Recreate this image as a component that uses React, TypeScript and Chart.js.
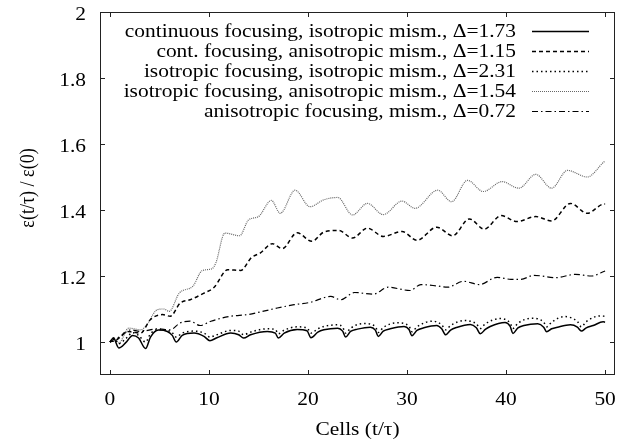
import React, { useEffect, useRef } from "react";
import { Chart, registerables } from "chart.js";

Chart.register(...registerables);

const FONT = "'Liberation Serif', 'Times New Roman', serif";
const FONT_PX = 18;
const STRETCH = 1.19;

const LABELS = [
  "continuous focusing, isotropic mism., \u0394=1.73",
  "cont. focusing, anisotropic mism., \u0394=1.15",
  "isotropic focusing, isotropic mism., \u0394=2.31",
  "isotropic focusing, anisotropic mism., \u0394=1.54",
  "anisotropic focusing, mism., \u0394=0.72",
];

const X_TITLE = "Cells (t/\u03c4)";
const Y_TITLE = "\u03b5(t/\u03c4) / \u03b5(0)";

const X_TICKS = [0, 10, 20, 30, 40, 50];
const Y_TICKS = [1, 1.2, 1.4, 1.6, 1.8, 2];

// Series 1: continuous focusing, isotropic mismatch (solid)
const T1 = [0, 0.35, 0.9, 1.6, 2.3, 2.9, 3.6, 4.1, 4.9, 5.8, 6.3, 6.7, 7.3, 8.5, 9.5, 10.1, 10.8, 12.2, 13.0, 13.5, 14.2, 15.9, 16.7, 17.0, 17.6, 18.9, 19.9, 20.3, 21.0, 21.6, 23.0, 23.5, 23.8, 24.3, 25.0, 26.3, 26.8, 27.1, 27.6, 28.3, 29.7, 30.2, 30.5, 31.0, 31.7, 33.0, 33.5, 33.9, 34.4, 35.0, 36.4, 37.0, 37.4, 37.9, 38.4, 39.9, 40.4, 40.7, 41.2, 41.8, 43.2, 43.8, 44.1, 44.6, 45.2, 46.5, 47.2, 47.6, 48.1, 48.8, 49.8, 50];
const V1 = [1.0, 1.012, 0.982, 0.998, 1.02, 1.012, 0.98, 1.015, 1.036, 1.032, 1.02, 1.0, 1.02, 1.027, 1.017, 1.004, 1.013, 1.027, 1.022, 1.012, 1.022, 1.032, 1.027, 1.012, 1.027, 1.038, 1.034, 1.013, 1.03, 1.037, 1.042, 1.033, 1.015, 1.032, 1.039, 1.045, 1.036, 1.017, 1.033, 1.04, 1.047, 1.038, 1.019, 1.035, 1.043, 1.05, 1.04, 1.022, 1.036, 1.044, 1.053, 1.043, 1.025, 1.038, 1.047, 1.059, 1.048, 1.026, 1.043, 1.05, 1.055, 1.045, 1.031, 1.04, 1.045, 1.052, 1.045, 1.033, 1.043, 1.05, 1.061, 1.06];

// Series 2: cont. focusing, anisotropic mismatch (dashed)
const T2 = [0, 0.7, 1.2, 1.7, 2.3, 3.1, 4.1, 5.3, 6.1, 7.1, 8.1, 9.5, 10.5, 11.9, 13.2, 14.3, 15.2, 16.4, 17.4, 18.9, 20.4, 21.6, 23.1, 24.5, 26.0, 27.6, 29.5, 31.0, 33.0, 34.6, 36.3, 37.8, 39.5, 41.1, 43.0, 44.6, 46.5, 48.2, 49.9, 50];
const V2 = [1.0, 1.007, 1.02, 1.032, 1.03, 1.027, 1.068, 1.083, 1.078, 1.118, 1.128, 1.148, 1.165, 1.219, 1.217, 1.256, 1.27, 1.298, 1.283, 1.331, 1.305, 1.333, 1.338, 1.315, 1.345, 1.32, 1.335, 1.308, 1.348, 1.322, 1.373, 1.342, 1.383, 1.365, 1.38, 1.367, 1.42, 1.39, 1.418, 1.418];

// Series 3: isotropic focusing, isotropic mismatch (dotted)
const T3 = [0, 0.4, 0.9, 1.6, 2.3, 2.9, 3.6, 4.1, 4.9, 5.8, 6.3, 6.7, 7.3, 8.5, 9.5, 10.1, 10.8, 12.2, 13.0, 13.5, 14.2, 15.9, 16.7, 17.0, 17.6, 18.9, 19.9, 20.3, 21.0, 21.6, 23.0, 23.5, 23.8, 24.3, 25.6, 26.8, 27.1, 27.6, 29.0, 30.2, 30.5, 31.0, 32.6, 33.5, 33.9, 34.4, 35.8, 37.0, 37.4, 37.9, 39.4, 40.4, 40.7, 41.2, 42.6, 43.8, 44.1, 44.6, 45.9, 47.2, 47.6, 48.1, 49.5, 50];
const V3 = [1.0, 1.012, 0.995, 1.01, 1.028, 1.02, 1.0, 1.025, 1.038, 1.035, 1.028, 1.015, 1.027, 1.033, 1.027, 1.015, 1.022, 1.035, 1.033, 1.022, 1.03, 1.04, 1.038, 1.025, 1.036, 1.046, 1.043, 1.027, 1.04, 1.047, 1.052, 1.045, 1.027, 1.042, 1.056, 1.047, 1.029, 1.044, 1.058, 1.048, 1.031, 1.046, 1.063, 1.052, 1.037, 1.05, 1.065, 1.055, 1.041, 1.055, 1.071, 1.058, 1.041, 1.057, 1.072, 1.06, 1.046, 1.06, 1.077, 1.062, 1.046, 1.062, 1.079, 1.078];

// Series 4: isotropic focusing, anisotropic mismatch (fine dotted, grey)
const T4 = [0, 0.4, 0.9, 1.9, 3.1, 3.6, 4.8, 5.4, 6.0, 7.0, 8.4, 9.3, 10.3, 10.7, 11.6, 13.1, 14.0, 15.0, 16.3, 17.2, 18.7, 20.2, 21.6, 23.0, 24.5, 26.0, 27.6, 29.5, 30.8, 33.1, 34.5, 36.1, 37.7, 39.6, 41.3, 43.0, 44.6, 46.2, 48.2, 49.9, 50];
const V4 = [1.0, 1.012, 0.997, 1.042, 1.037, 1.047, 1.098, 1.1, 1.093, 1.148, 1.17, 1.216, 1.222, 1.24, 1.33, 1.322, 1.37, 1.38, 1.429, 1.39, 1.46, 1.41, 1.431, 1.438, 1.385, 1.42, 1.386, 1.427, 1.405, 1.46, 1.425, 1.49, 1.456, 1.486, 1.466, 1.508, 1.466, 1.52, 1.5, 1.546, 1.548];

// Series 5: anisotropic focusing (dash-dot)
const T5 = [0, 0.5, 1.1, 2.1, 3.1, 4.8, 6.1, 7.1, 8.1, 9.1, 10.2, 12.2, 13.9, 15.3, 16.9, 18.6, 20.2, 22.3, 23.3, 24.7, 26.6, 28.1, 30.3, 31.4, 33.0, 34.1, 35.7, 37.3, 39.1, 40.5, 41.5, 42.8, 45.0, 47.0, 48.6, 50];
const V5 = [1.0, 1.01, 1.017, 1.037, 1.032, 1.04, 1.037, 1.058, 1.063, 1.05, 1.063, 1.078, 1.083, 1.092, 1.103, 1.113, 1.12, 1.138, 1.128, 1.15, 1.145, 1.166, 1.156, 1.174, 1.17, 1.166, 1.184, 1.174, 1.196, 1.19, 1.19, 1.202, 1.195, 1.205, 1.2, 1.215];

const SERIES = [
  { t: T1, v: V1, color: "#000000", width: 1.5, dash: [] as number[] },
  { t: T2, v: V2, color: "#000000", width: 1.5, dash: [4, 3] },
  { t: T3, v: V3, color: "#000000", width: 1.5, dash: [1.5, 3] },
  { t: T4, v: V4, color: "#666666", width: 1.2, dash: [1, 1] },
  { t: T5, v: V5, color: "#000000", width: 1.2, dash: [6, 3, 1.5, 3] },
];

function drawText(ctx: any, text: string, x: number, y: number, align: CanvasTextAlign, rotate = false) {
  ctx.save();
  ctx.translate(x, y);
  if (rotate) {
    ctx.rotate(-Math.PI / 2);
    ctx.scale(1, STRETCH);
  } else {
    ctx.scale(STRETCH, 1);
  }
  ctx.textAlign = align;
  ctx.textBaseline = "alphabetic";
  ctx.fillText(text, 0, 0);
  ctx.restore();
}

const framePlugin = {
  id: "frameAndLegend",
  afterDraw(chart: any) {
    const { ctx, chartArea } = chart;
    const { left, right, top, bottom } = chartArea;
    const xs = chart.scales.x;
    const ys = chart.scales.y;
    ctx.save();
    ctx.strokeStyle = "#222";
    ctx.lineWidth = 1;
    ctx.setLineDash([]);
    ctx.strokeRect(left + 0.5, top + 0.5, right - left - 1, bottom - top - 1);
    const tl = 5;
    ctx.beginPath();
    X_TICKS.forEach((v) => {
      const px = Math.round(xs.getPixelForValue(v)) + 0.5;
      ctx.moveTo(px, bottom);
      ctx.lineTo(px, bottom - tl);
      ctx.moveTo(px, top);
      ctx.lineTo(px, top + tl);
    });
    Y_TICKS.forEach((v) => {
      const py = Math.round(ys.getPixelForValue(v)) + 0.5;
      ctx.moveTo(left, py);
      ctx.lineTo(left + tl, py);
      ctx.moveTo(right, py);
      ctx.lineTo(right - tl, py);
    });
    ctx.stroke();

    ctx.font = `${FONT_PX}px ${FONT}`;
    ctx.fillStyle = "#000";

    // tick labels
    X_TICKS.forEach((v) => {
      drawText(ctx, String(v), xs.getPixelForValue(v), bottom + 30, "center");
    });
    Y_TICKS.forEach((v) => {
      drawText(ctx, String(Number(v.toFixed(1))), left - 14, ys.getPixelForValue(v) + 7.5, "right");
    });

    // axis titles
    drawText(ctx, X_TITLE, (left + right) / 2, 435, "center");
    drawText(ctx, Y_TITLE, 33.5, 188, "center", true);

    // legend
    const textRight = 516;
    const x0 = 532;
    const x1 = 589;
    const y0 = 31;
    const dy = 20;
    chart.data.datasets.forEach((ds: any, i: number) => {
      const y = y0 + i * dy;
      drawText(ctx, ds.label, textRight, y + 6, "right");
      ctx.save();
      ctx.strokeStyle = ds.borderColor;
      ctx.lineWidth = ds.borderWidth;
      ctx.setLineDash(ds.borderDash || []);
      ctx.beginPath();
      ctx.moveTo(x0, Math.round(y) + 0.5);
      ctx.lineTo(x1, Math.round(y) + 0.5);
      ctx.stroke();
      ctx.restore();
    });
    ctx.restore();
  },
};

export default function App() {
  const ref = useRef<HTMLCanvasElement | null>(null);
  useEffect(() => {
    document.body.style.margin = "0";
    const canvas = ref.current;
    if (!canvas) return;
    const datasets = SERIES.map((s, i) => ({
      label: LABELS[i],
      data: s.t.map((t, k) => ({ x: t, y: s.v[k] })),
      borderColor: s.color,
      borderWidth: s.width,
      borderDash: s.dash,
      pointRadius: 0,
      fill: false,
      cubicInterpolationMode: "monotone" as const,
    }));
    const chart = new Chart(canvas, {
      type: "line",
      data: { datasets },
      options: {
        animation: false,
        responsive: true,
        maintainAspectRatio: false,
        layout: { padding: { top: 12, right: 22, left: 0, bottom: 0 } },
        plugins: { legend: { display: false }, tooltip: { enabled: false } },
        scales: {
          x: {
            type: "linear",
            min: -1,
            max: 51,
            grid: { display: false },
            border: { display: false },
            afterBuildTicks: (scale: any) => {
              scale.ticks = X_TICKS.map((v) => ({ value: v }));
            },
            afterFit: (scale: any) => {
              scale.height = 72;
            },
            ticks: { display: false },
            title: { display: false },
          },
          y: {
            type: "linear",
            min: 0.9,
            max: 2,
            grid: { display: false },
            border: { display: false },
            afterBuildTicks: (scale: any) => {
              scale.ticks = Y_TICKS.map((v) => ({ value: v }));
            },
            afterFit: (scale: any) => {
              scale.width = 100;
            },
            ticks: { display: false },
            title: { display: false },
          },
        },
      },
      plugins: [framePlugin],
    });
    return () => chart.destroy();
  }, []);
  return (
    <div style={{ position: "relative", width: 637, height: 447 }}>
      <canvas ref={ref} />
    </div>
  );
}
